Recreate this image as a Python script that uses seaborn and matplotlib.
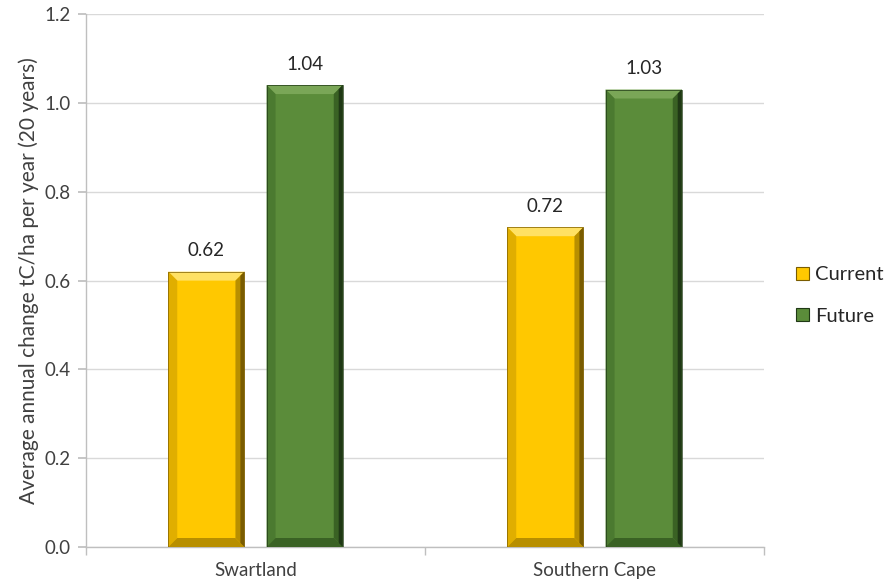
import matplotlib
matplotlib.use("Agg")
import matplotlib.pyplot as plt
from matplotlib.patches import Polygon
import seaborn as sns
import pandas as pd

regions = ["Swartland", "Southern Cape"]
scenarios = ["Current", "Future"]
current_values = [0.62, 0.72]
future_values = [1.04, 1.03]
y_ticks = [0.0, 0.2, 0.4, 0.6, 0.8, 1.0, 1.2]

face_colors = {"Current": "#FFC800", "Future": "#5B8C3A"}
light_colors = {"Current": "#FFE164", "Future": "#7AA657"}
dark_colors = {"Current": "#7A5C00", "Future": "#1F3815"}
side_dark = {"Current": "#B88F00", "Future": "#3A6224"}
mid_dark = {"Current": "#E0AE00", "Future": "#4B7A30"}

df = pd.DataFrame({
    "Region": regions * 2,
    "Scenario": [scenarios[0]] * len(regions) + [scenarios[1]] * len(regions),
    "Value": current_values + future_values,
})

sns.set_theme(style="white")
plt.rcParams["font.family"] = ["Lato", "DejaVu Sans"]

fig = plt.figure(figsize=(8.9, 5.85), dpi=100)
ax = fig.add_axes([86 / 890, 38 / 585, (764 - 86) / 890, (547 - 14) / 585])

sns.barplot(data=df, x="Region", y="Value", hue="Scenario", order=regions,
            hue_order=scenarios, palette=face_colors, width=0.58, gap=0.225,
            errorbar=None, ax=ax, legend=True, linewidth=0, saturation=1)

ax.set_ylim(0, 1.2)
ax.set_xlim(-0.5, len(regions) - 0.5)
ax.set_yticks(y_ticks)
ax.set_yticklabels([f"{t:.1f}" for t in y_ticks], fontsize=13.5, color="#404040")
ax.yaxis.grid(True, color="#D9D9D9", linewidth=1)
ax.set_axisbelow(True)
for side in ["top", "right"]:
    ax.spines[side].set_visible(False)
for side in ["left", "bottom"]:
    ax.spines[side].set_color("#BFBFBF")
    ax.spines[side].set_linewidth(1)
ax.tick_params(axis="y", direction="out", length=6, color="#BFBFBF", left=True, pad=5)
ax.tick_params(axis="x", which="major", length=0, pad=11, labelsize=13.5, labelcolor="#404040")
ax.set_xticks([i - 0.5 for i in range(len(regions) + 1)], minor=True)
ax.tick_params(axis="x", which="minor", direction="out", length=6, color="#BFBFBF", bottom=True)
ax.set_xlabel("")
ax.set_ylabel("Average annual change tC/ha per year (20 years)", fontsize=15,
              color="#404040", labelpad=4)

# bevel shading on each bar, sized in pixels and mapped back into data space
fig.canvas.draw()
to_data = ax.transData.inverted()
bev = 9
for container, scen in zip(ax.containers, scenarios):
    for patch in container.patches:
        x0, y0 = patch.get_x(), patch.get_y()
        x1, y1 = x0 + patch.get_width(), y0 + patch.get_height()
        (px0, py0) = ax.transData.transform((x0, y0))
        (px1, py1) = ax.transData.transform((x1, y1))

        def d(px, py):
            return to_data.transform((px, py))

        top = [d(px0, py1), d(px1, py1), d(px1 - bev, py1 - bev), d(px0 + bev, py1 - bev)]
        right = [d(px1, py1), d(px1, py0), d(px1 - bev, py0 + bev), d(px1 - bev, py1 - bev)]
        right_inner = [d(px1 - bev * 0.45, py1 - bev * 0.45), d(px1 - bev * 0.45, py0 + bev * 0.45),
                       d(px1, py0), d(px1, py1)]
        bottom = [d(px0, py0), d(px1, py0), d(px1 - bev, py0 + bev), d(px0 + bev, py0 + bev)]
        left = [d(px0, py1), d(px0 + bev, py1 - bev), d(px0 + bev, py0 + bev), d(px0, py0)]
        ax.add_patch(Polygon(top, closed=True, color=light_colors[scen], lw=0, zorder=3))
        ax.add_patch(Polygon(left, closed=True, color=mid_dark[scen], lw=0, zorder=3))
        ax.add_patch(Polygon(bottom, closed=True, color=side_dark[scen], lw=0, zorder=3))
        ax.add_patch(Polygon(right, closed=True, color=side_dark[scen], lw=0, zorder=3))
        ax.add_patch(Polygon(right_inner, closed=True, color=dark_colors[scen], lw=0, zorder=3))
        ax.add_patch(Polygon([d(px0, py0), d(px1, py0), d(px1, py1), d(px0, py1)],
                             closed=True, fill=False, ec=dark_colors[scen], lw=0.5, zorder=4))
    ax.bar_label(container, labels=[f"{v:.2f}" for v in container.datavalues],
                 padding=9, fontsize=13.5, color="#262626")

handles, labels = ax.get_legend_handles_labels()
for h, scen in zip(handles, scenarios):
    h.set_edgecolor(dark_colors[scen])
    h.set_linewidth(0.8)
ax.legend(handles, labels, loc="center left", bbox_to_anchor=(1.02, 0.472),
          frameon=False, fontsize=14.5, handlelength=0.65, handleheight=0.65,
          handletextpad=0.3, labelspacing=1.2, labelcolor="#262626")

fig.savefig("out.png", dpi=100)
